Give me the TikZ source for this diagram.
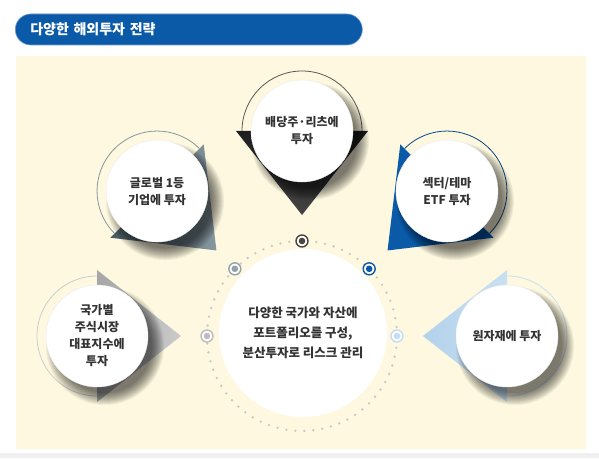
\documentclass[tikz,border=0pt]{standalone}
\usepackage{fontspec}
\setmainfont{Noto Sans CJK KR}
\usetikzlibrary{calc}
\definecolor{panel}{HTML}{FDF8DF}
\definecolor{titleblue}{HTML}{0B5AA8}
\definecolor{txt}{HTML}{333333}
\definecolor{darkA}{HTML}{1E1E1E}
\definecolor{darkB}{HTML}{444444}
\definecolor{slateA}{HTML}{465860}
\definecolor{slateB}{HTML}{8797A0}
\definecolor{lgA}{HTML}{A6A6A6}
\definecolor{lgB}{HTML}{CACACA}
\definecolor{lbA}{HTML}{B3D2EC}
\definecolor{lbB}{HTML}{C9E0F2}
\definecolor{icTop}{HTML}{4B4540}
\definecolor{icUL}{HTML}{95A3A9}
\definecolor{icUR}{HTML}{0B5AA8}
\definecolor{icL}{HTML}{BDBDBD}
\definecolor{icR}{HTML}{C5DDF0}
\pgfdeclareradialshading{discshade}{\pgfpoint{-8bp}{8bp}}{color(0bp)=(white); color(28bp)=(white); color(50bp)=(black!14)}
\tikzset{
  disc/.style={circle, minimum size=102pt, inner sep=0pt, shading=discshade, draw=black!8, line width=0.4pt,
    align=center, text=txt, font=\fontsize{12}{17}\selectfont\bfseries},
  icon/.style={circle, draw=#1, line width=1.4pt, fill=white, minimum size=12pt, inner sep=0pt,
    path picture={\fill[#1] (path picture bounding box.center) circle[radius=3.3pt];}},
  ring/.style={draw=black!22, line width=2.6pt, line cap=round, dash pattern=on 0pt off 9pt},
}
\newcommand\satnode[5]{%
  \coordinate (#2) at ($(C)+(#1:205)$);
  \coordinate (#2-apex) at ($(C)+(#1:121)$);
  \draw[#4, line width=0.8pt] ($(#2)+(#1-90:60)$) arc[start angle=#1-90, end angle=#1+90, radius=60];
  \path[#3] ($(#2)+(#1+90:66)$) -- (#2-apex) -- ($(#2)+(#1-90:66)$) -- cycle;
  \foreach \rr in {59,58,...,47} {\fill[black, opacity=0.05] ($(#2)+(8,-10)$) circle[radius=\rr];}
  \node[disc] (#2-n) at (#2) {#5};
}
\begin{document}
\begin{tikzpicture}[x=1pt,y=1pt]
\useasboundingbox (0,0) rectangle (599,458);
\fill[white] (0,0) rectangle (599,458);
\fill[black!6] (0,0) rectangle (599,5);
\fill[panel] (16,9) rectangle (586,402);
\node[fill=titleblue, draw=titleblue!60, line width=0.6pt, rounded corners=15.5pt, minimum height=31pt, text width=317pt, inner xsep=15pt,
  anchor=west, text=white, align=left, font=\fontsize{14}{16}\selectfont\bfseries] (title) at (15,428.5) {다양한 해외투자 전략};
\coordinate (C) at (302,122);
% satellites
\satnode{90}{top}{top color=darkA, bottom color=darkB}{black!65}{배당주·리츠에\\투자}
\satnode{135}{ul}{left color=slateA, right color=slateB}{slateB}{글로벌 1등\\기업에 투자}
\satnode{45}{ur}{fill=titleblue}{titleblue!80!black}{섹터/테마\\ETF 투자}
\satnode{180}{lf}{left color=lgA, right color=lgB}{black!20}{국가별\\주식시장\\대표지수에\\투자}
\satnode{0}{rt}{left color=lbA, right color=lbB}{lbB}{원자재에 투자}
% center
\draw[ring] (C) circle[radius=95];
\node[circle, fill=white, minimum size=168pt, inner sep=0pt, align=center, text=txt,
  font=\fontsize{12.5}{20}\selectfont\bfseries] (center) at ($(C)+(1,3)$) {다양한 국가와 자산에\\포트폴리오를 구성,\\분산투자로 리스크 관리};
\node[icon=icTop] (i90) at ($(C)+(90:95)$) {};
\node[icon=icUL] (i135) at ($(C)+(135:95)$) {};
\node[icon=icUR] (i45) at ($(C)+(45:95)$) {};
\node[icon=icL] (i180) at ($(C)+(180:95)$) {};
\node[icon=icR] (i0) at ($(C)+(0:95)$) {};
\end{tikzpicture}
\end{document}
